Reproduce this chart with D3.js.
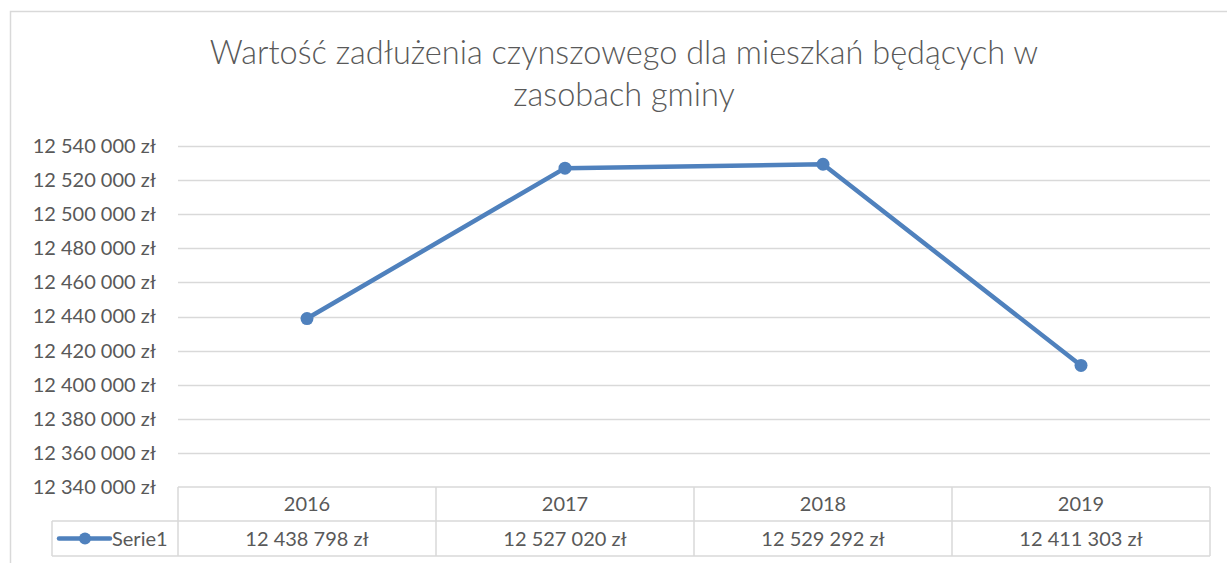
<!DOCTYPE html>
<html><head><meta charset="utf-8">
<script src="https://cdnjs.cloudflare.com/ajax/libs/d3/7.8.5/d3.min.js"></script>
<style>body{margin:0;background:#fff}svg{display:block}text{font-family:Lato,"Open Sans",sans-serif}</style>
</head><body><svg id="c" width="1227" height="563"></svg>
<script>
const titleLines = ["Wartość zadłużenia czynszowego dla mieszkań będących w", "zasobach gminy"];
const years = ["2016", "2017", "2018", "2019"];
const values = [12438798, 12527020, 12529292, 12411303];
const seriesName = "Serie1";
const yTicks = [12340000, 12360000, 12380000, 12400000, 12420000, 12440000, 12460000, 12480000, 12500000, 12520000, 12540000];

const svg = d3.select("#c");
const locale = d3.formatLocale({decimal: ",", thousands: " ", grouping: [3], currency: ["", " zł"]});
const fmt = v => locale.format(",")(v) + " zł";
const textCol = "#595959", gridCol = "#d9d9d9", lineCol = "#4f81bd";
const fs = 20;

// outer border
svg.append("rect").attr("x", 10.5).attr("y", 11.5).attr("width", 1300).attr("height", 600)
  .attr("fill", "none").attr("stroke", gridCol).attr("stroke-width", 1.5);

// title
svg.append("text").attr("x", 624).attr("text-anchor", "middle").attr("fill", textCol)
  .attr("font-size", 32.5).attr("font-weight", 300)
  .selectAll("tspan").data(titleLines).join("tspan")
  .attr("x", 624).attr("y", (d, i) => 64 + i * 42).text(d => d);

const x = d3.scaleBand().domain(years).range([178, 1210]);
const y = d3.scaleLinear().domain([12340000, 12540000]).range([487, 146]);

// gridlines
svg.append("g").selectAll("line").data(yTicks.slice(1)).join("line")
  .attr("x1", 178).attr("x2", 1210).attr("y1", d => Math.round(y(d)) + 0.5).attr("y2", d => Math.round(y(d)) + 0.5)
  .attr("stroke", gridCol).attr("stroke-width", 1.3);

// y axis labels
const yAxis = d3.axisLeft(y).tickValues(yTicks).tickFormat(fmt).tickSize(0).tickPadding(22);
const ga = svg.append("g").attr("transform", "translate(178,0)").call(yAxis);
ga.select(".domain").remove();
ga.selectAll("text").attr("fill", textCol).attr("font-size", fs).style("font-family", "Lato");

// data table
const rowTop = 487, rowMid = 521, rowBot = 556;
const tg = svg.append("g").attr("stroke", gridCol).attr("stroke-width", 1.5).attr("fill", "none");
tg.append("line").attr("x1", 178).attr("x2", 1210).attr("y1", rowTop).attr("y2", rowTop);
tg.append("line").attr("x1", 52).attr("x2", 1210).attr("y1", rowMid).attr("y2", rowMid);
tg.append("line").attr("x1", 52).attr("x2", 1210).attr("y1", rowBot).attr("y2", rowBot);
tg.append("line").attr("x1", 52).attr("x2", 52).attr("y1", rowMid).attr("y2", rowBot);
const bounds = years.map(d => x(d)).concat([x.range()[1]]);
tg.selectAll(".v").data(bounds).join("line").attr("class", "v")
  .attr("x1", d => d).attr("x2", d => d).attr("y1", rowTop).attr("y2", rowBot);

svg.append("g").selectAll("text").data(years).join("text")
  .attr("x", d => x(d) + x.bandwidth() / 2).attr("y", (rowTop + rowMid) / 2 + 7)
  .attr("text-anchor", "middle").attr("fill", textCol).attr("font-size", fs).text(d => d);
svg.append("g").selectAll("text").data(values).join("text")
  .attr("x", (d, i) => x(years[i]) + x.bandwidth() / 2).attr("y", (rowMid + rowBot) / 2 + 7)
  .attr("text-anchor", "middle").attr("fill", textCol).attr("font-size", fs).text(d => fmt(d));

// legend key
const ly = (rowMid + rowBot) / 2;
svg.append("line").attr("x1", 59).attr("x2", 110).attr("y1", ly).attr("y2", ly)
  .attr("stroke", lineCol).attr("stroke-width", 4.5).attr("stroke-linecap", "round");
svg.append("circle").attr("cx", 85).attr("cy", ly).attr("r", 6).attr("fill", lineCol);
svg.append("text").attr("x", 112).attr("y", ly + 7).attr("fill", textCol).attr("font-size", fs).text(seriesName);

// line + markers
const pts = years.map((d, i) => [x(d) + x.bandwidth() / 2, y(values[i])]);
svg.append("path").attr("d", d3.line()(pts)).attr("fill", "none").attr("stroke", lineCol)
  .attr("stroke-width", 4.5).attr("stroke-linejoin", "round").attr("stroke-linecap", "round");
svg.append("g").selectAll("circle").data(pts).join("circle")
  .attr("cx", d => d[0]).attr("cy", d => d[1]).attr("r", 6.5).attr("fill", lineCol);
</script></body></html>
